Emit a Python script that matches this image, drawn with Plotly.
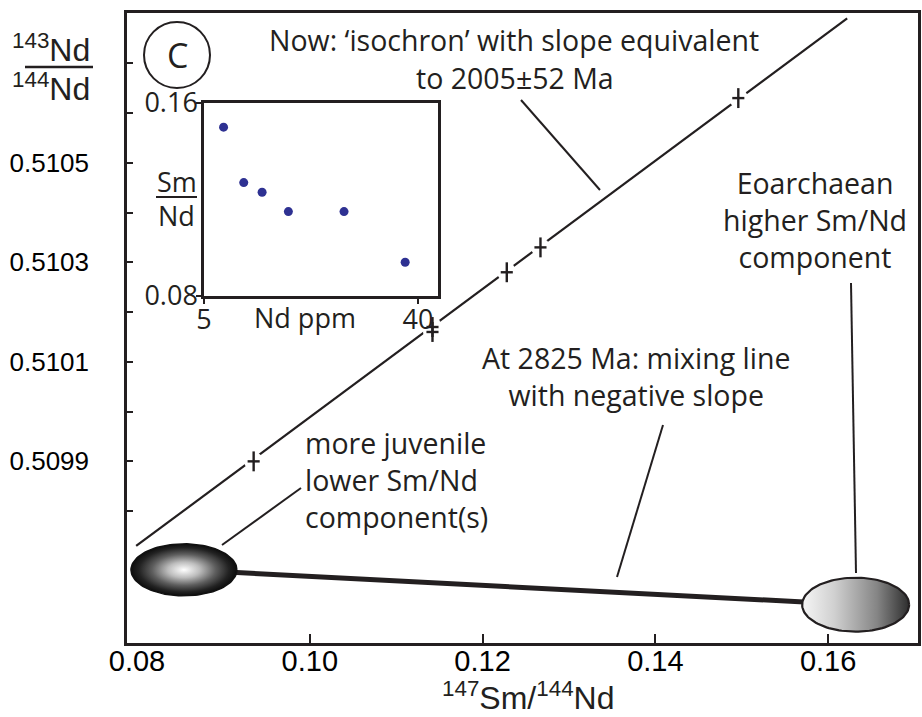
import numpy as np
import plotly.graph_objects as go

# ---------------- data ----------------
# main diagram: whole-rock points on the "isochron"
sm_nd = [0.0935, 0.1142, 0.1142, 0.1228, 0.1267, 0.1496]
nd_ratio = [0.50990, 0.51017, 0.51016, 0.51028, 0.51033, 0.51063]
sm_nd_err = [0.0007, 0.0007, 0.0007, 0.0007, 0.0007, 0.0007]
nd_ratio_err = [0.00002, 0.00002, 0.00002, 0.00002, 0.00002, 0.00002]

# isochron (present day) end points
isochron_x = [0.0799, 0.1622]
isochron_y = [0.50973, 0.51079]

# mixing end-members at 2825 Ma (centre and half-size of ellipses)
em_x = [0.08543, 0.16318]
em_y = [0.509682, 0.509612]
em_rx = [0.00613, 0.00619]
em_ry = [0.0000523, 0.0000543]

# inset: Sm/Nd vs Nd ppm
nd_ppm = [8.2, 11.5, 14.5, 18.8, 27.9, 37.9]
sm_nd_conc = [0.150, 0.127, 0.123, 0.115, 0.115, 0.094]

x_ticks = [0.08, 0.10, 0.12, 0.14, 0.16]
x_ticks_marked = [0.10, 0.12, 0.14, 0.16]
y_ticks = [0.5098, 0.5099, 0.5100, 0.5101, 0.5102, 0.5103, 0.5104, 0.5105, 0.5106, 0.5107]
y_labels = ["", "0.5099", "", "0.5101", "", "0.5103", "", "0.5105", "", ""]
inset_x_ticks = [5, 40]
inset_y_ticks = [0.08, 0.16]

# ---------------- layout geometry ----------------
W, H = 922, 717
L, R, T, B = 127, 918, 13, 643
INK = "#231f20"
AX_FONT = "Liberation Sans"
TX_FONT = "Open Sans"


def P(px, py):
    """pixel position -> paper coordinates"""
    return (px - L) / (R - L), (B - py) / (B - T)


fig = go.Figure()

# isochron line
fig.add_trace(go.Scatter(x=isochron_x, y=isochron_y, mode="lines",
                         line=dict(color=INK, width=2.2),
                         hoverinfo="skip", showlegend=False))
# white halos (gaps in the line around data points)
fig.add_trace(go.Scatter(x=sm_nd, y=nd_ratio, mode="markers",
                         marker=dict(color="white", size=19, line=dict(width=0)),
                         hoverinfo="skip", showlegend=False))
# error crosses
fig.add_trace(go.Scatter(x=sm_nd, y=nd_ratio, mode="markers",
                         marker=dict(color=INK, size=1),
                         error_x=dict(type="data", array=sm_nd_err, width=0,
                                      thickness=2.4, color=INK),
                         error_y=dict(type="data", array=nd_ratio_err, width=0,
                                      thickness=2.4, color=INK),
                         showlegend=False))
# mixing line
fig.add_trace(go.Scatter(x=em_x, y=em_y, mode="lines",
                         line=dict(color=INK, width=5),
                         hoverinfo="skip", showlegend=False))

# end-member ellipses
t = np.linspace(0, 2 * np.pi, 121)
ex0 = em_x[0] + em_rx[0] * np.cos(t)
ey0 = em_y[0] + em_ry[0] * np.sin(t)
fig.add_trace(go.Scatter(x=ex0, y=ey0, mode="lines", fill="toself",
                         line=dict(color="#111111", width=1.5),
                         fillgradient=dict(type="radial",
                                           colorscale=[[0, "#ffffff"], [0.3, "#bdbdbd"],
                                                       [0.6, "#5e5e5e"], [0.85, "#222222"],
                                                       [1, "#0d0d0d"]]),
                         hoverinfo="skip", showlegend=False))
ex1 = em_x[1] + em_rx[1] * np.cos(t)
ey1 = em_y[1] + em_ry[1] * np.sin(t)
fig.add_trace(go.Scatter(x=ex1, y=ey1, mode="lines", fill="toself",
                         line=dict(color=INK, width=2.2),
                         fillgradient=dict(type="horizontal",
                                           colorscale=[[0, "#f6f6f6"], [0.3, "#d0d0d0"],
                                                       [0.7, "#858585"], [1, "#2e2e2e"]]),
                         hoverinfo="skip", showlegend=False))

# dummy trace for the tick-only overlay axis
fig.add_trace(go.Scatter(x=[0.12], y=[0.5101], xaxis="x2", yaxis="y", mode="markers",
                         marker=dict(opacity=0), hoverinfo="skip", showlegend=False))

# inset scatter
fig.add_trace(go.Scatter(x=nd_ppm, y=sm_nd_conc, xaxis="x3", yaxis="y3", mode="markers",
                         marker=dict(color="#2e3192", size=9),
                         showlegend=False))

xr = [0.07884, 0.1704]
fig.update_layout(
    width=W, height=H,
    margin=dict(l=L, r=W - R, t=T, b=H - B, pad=0, autoexpand=False),
    paper_bgcolor="white", plot_bgcolor="white",
    showlegend=False,
    xaxis=dict(range=xr, tickvals=x_ticks, ticktext=["%.2f" % v for v in x_ticks],
               ticks="", ticklen=0, showgrid=False, zeroline=False, automargin=False,
               showline=True, mirror=True, linecolor=INK, linewidth=2.5,
               tickfont=dict(family=AX_FONT, size=29, color="black"),
               ticklabelstandoff=-10),
    xaxis2=dict(range=xr, overlaying="x", anchor="y", side="bottom", automargin=False,
                tickvals=x_ticks_marked, ticks="inside", ticklen=9, tickwidth=2,
                tickcolor=INK, showticklabels=False, showgrid=False, zeroline=False,
                showline=False),
    yaxis=dict(range=[0.509535, 0.510801], tickvals=y_ticks, ticktext=y_labels,
               ticks="inside", ticklen=6, tickwidth=2, tickcolor=INK,
               showgrid=False, zeroline=False, automargin=False,
               showline=True, mirror=True, linecolor=INK, linewidth=2.5,
               tickfont=dict(family=AX_FONT, size=26, color="black"),
               ticklabelstandoff=30),
    xaxis3=dict(domain=[P(204, 0)[0], P(438, 0)[0]], anchor="y3", range=[5, 43.27],
                tickvals=inset_x_ticks, ticktext=[str(v) for v in inset_x_ticks],
                ticks="outside", ticklen=5, tickwidth=2, tickcolor=INK, automargin=False,
                showgrid=False, zeroline=False, ticklabelstandoff=-7,
                showline=True, mirror=True, linecolor=INK, linewidth=2.5,
                tickfont=dict(family=TX_FONT, size=27, color=INK)),
    yaxis3=dict(domain=[P(0, 296)[1], P(0, 103)[1]], anchor="x3", range=[0.08, 0.16],
                tickvals=inset_y_ticks, ticktext=["%.2f" % v for v in inset_y_ticks],
                ticks="outside", ticklen=5, tickwidth=2, tickcolor=INK, automargin=False,
                showgrid=False, zeroline=False, ticklabelstandoff=-7,
                showline=True, mirror=True, linecolor=INK, linewidth=2.5,
                tickfont=dict(family=TX_FONT, size=27, color=INK)),
)

ann = []


def text(px, py, s, size=28, family=TX_FONT, xanchor="center", align="center"):
    x, y = P(px, py)
    ann.append(dict(x=x, y=y, xref="paper", yref="paper", text=s, showarrow=False,
                    xanchor=xanchor, yanchor="middle", align=align,
                    font=dict(family=family, size=size, color=INK)))


text(514, 40, "Now: \u2018isochron\u2019 with slope equivalent", size=28.5)
text(515, 78, "to 2005\u00b152 Ma", size=28.5)
text(815, 220, "Eoarchaean<br>higher Sm/Nd<br>component", size=28.5)
text(636, 377, "At 2825 Ma: mixing line<br>with negative slope", size=28.5)
text(303, 480, "more juvenile<br>lower Sm/Nd<br>component(s)", size=28.5,
     xanchor="left", align="left")
text(305, 318, "Nd ppm", size=27)
text(177, 181, "Sm", size=27)
text(176, 216, "Nd", size=27)
text(177, 55, "C", size=34)
# main axis titles
text(51, 48, "<sup>143</sup>Nd", size=32, family=AX_FONT)
text(51, 87, "<sup>144</sup>Nd", size=32, family=AX_FONT)
text(528, 696, "<sup>147</sup>Sm/<sup>144</sup>Nd", size=32, family=AX_FONT)
fig.update_layout(annotations=ann)

shapes = []


def seg(p0, p1, w=2.0):
    x0, y0 = P(*p0)
    x1, y1 = P(*p1)
    shapes.append(dict(type="line", xref="paper", yref="paper", x0=x0, y0=y0,
                       x1=x1, y1=y1, line=dict(color=INK, width=w)))


seg((521, 100), (600, 190))
seg((851, 283), (856, 573))
seg((663, 425), (617, 577))
seg((301, 488), (222, 545))
seg((25, 67), (93, 67), 2.5)
seg((156, 197), (197, 197), 2.2)
cx0, cy0 = P(144, 22)
cx1, cy1 = P(210, 88)
shapes.append(dict(type="circle", xref="paper", yref="paper", x0=cx0, y0=cy0,
                   x1=cx1, y1=cy1, line=dict(color=INK, width=2)))
fig.update_layout(shapes=shapes)

fig.write_html("out.html", config={"displayModeBar": False},
               post_script="document.body.style.margin='0';"
                           "document.body.style.overflow='hidden';")
